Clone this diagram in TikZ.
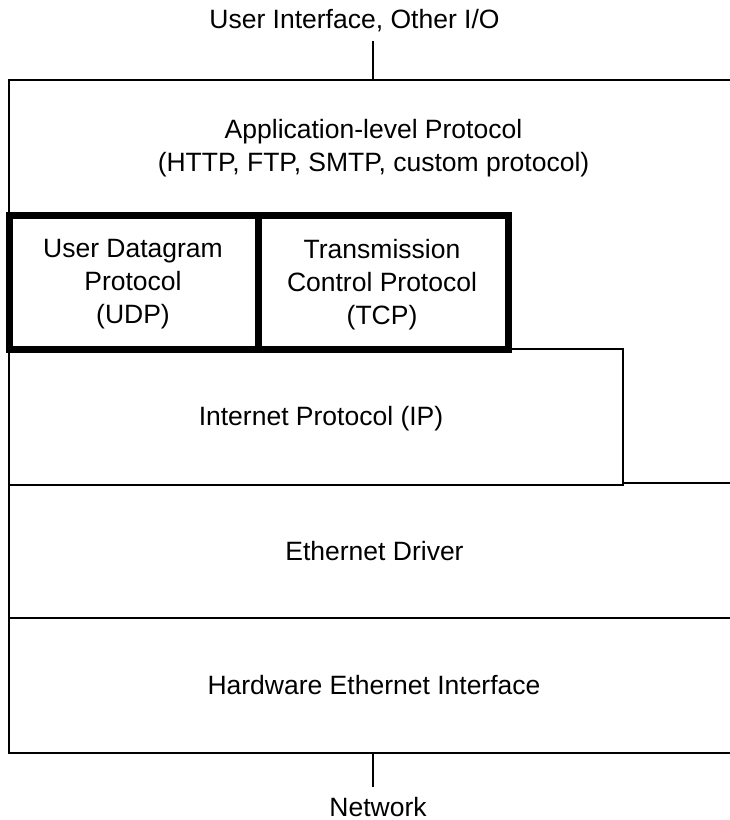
\documentclass[tikz,border=0pt]{standalone}
\usepackage{fontspec}
\setmainfont{Liberation Sans}
\begin{document}
\begin{tikzpicture}[x=1pt,y=-1pt,
  thin line/.style={line width=1.1pt,line cap=rect},
  thick box/.style={line width=7pt,line join=miter},
  lbl/.style={font=\fontsize{26.5pt}{33pt}\selectfont,align=center,inner sep=0pt}]
\useasboundingbox (0,0) rectangle (730,820);
% labels
\node[lbl,anchor=base] (ui) at (354.5,28.5) {User Interface, Other I/O};
\node[lbl] (app) at (373.5,148.5) {Application-level Protocol\\(HTTP, FTP, SMTP, custom protocol)};
\node[lbl] (udp) at (133,284.5) {User Datagram\\Protocol\\(UDP)};
\node[lbl] (tcp) at (382,284.5) {Transmission\\Control Protocol\\(TCP)};
\node[lbl,anchor=base] (ip) at (321,425.5) {Internet Protocol (IP)};
\node[lbl,anchor=base] (eth) at (374.5,560) {Ethernet Driver};
\node[lbl,anchor=base] (hw) at (374,694) {Hardware Ethernet Interface};
\node[lbl,anchor=base] (net) at (378,816) {Network};
% coordinates
\coordinate (uiend) at (373,41.5);
\coordinate (apptop) at (373,80);
\coordinate (hwbot) at (373,753);
\coordinate (netend) at (373,786.5);
% layer lines
\draw[thin line] (9,753) -- (9,80) -- (730,80);
\draw[thin line] (508,349) -- (623,349) -- (623,485) -- (9,485);
\draw[thin line] (623,483) -- (730,483);
\draw[thin line] (9,618) -- (730,618);
\draw[thin line] (9,753) -- (730,753);
% connectors
\draw[thin line] (uiend) -- (apptop);
\draw[thin line] (hwbot) -- (netend);
% transport boxes
\draw[thick box] (9,215.5) rectangle (508.5,349);
\draw[thick box] (258.5,215.5) -- (258.5,349);
\end{tikzpicture}
\end{document}
